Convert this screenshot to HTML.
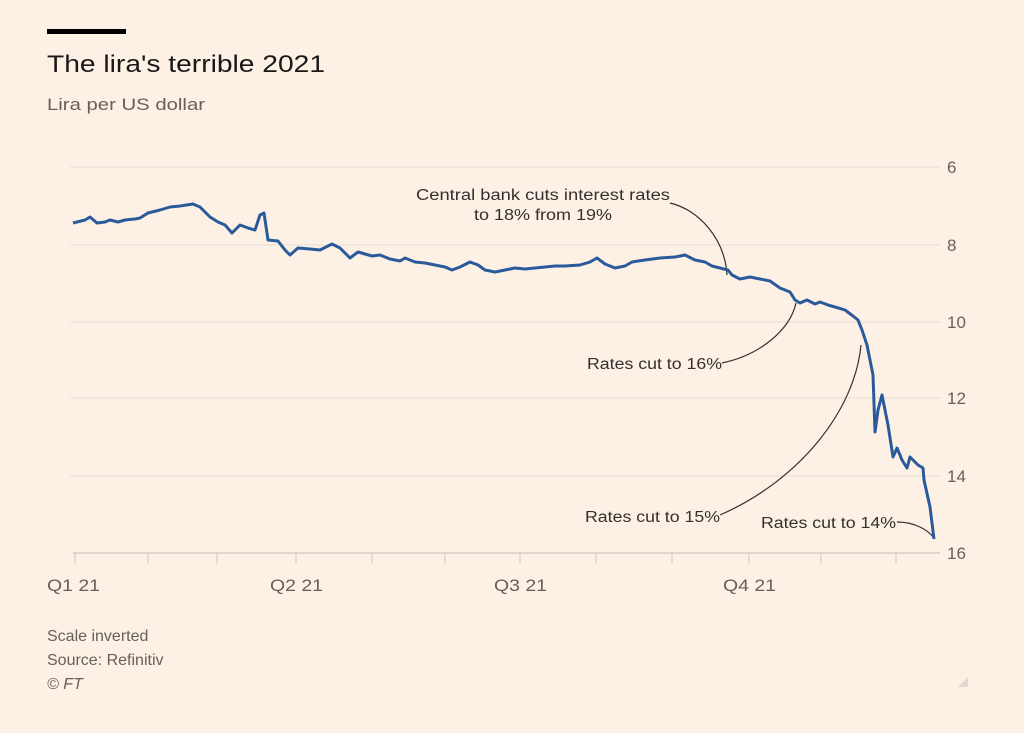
<!DOCTYPE html>
<html><head><meta charset="utf-8"><style>
html,body{margin:0;padding:0;background:#fdf1e6;}
body{width:1024px;height:728px;overflow:hidden;font-family:"Liberation Sans",sans-serif;}
</style></head><body>
<svg width="1024" height="728" viewBox="0 0 1024 728" xmlns="http://www.w3.org/2000/svg" font-family="Liberation Sans, sans-serif">
<rect width="1024" height="728" fill="#fdf1e6"/>
<rect x="47" y="29" width="79" height="5" fill="#000"/>
<text x="47" y="72" font-size="24" fill="#1a1817" textLength="278" lengthAdjust="spacingAndGlyphs">The lira's terrible 2021</text>
<text x="47" y="110" font-size="17" fill="#66605c" textLength="158" lengthAdjust="spacingAndGlyphs">Lira per US dollar</text>
<g stroke="#e8ddd3" stroke-width="1">
<line x1="70" y1="167" x2="940" y2="167"/>
<line x1="70" y1="245" x2="940" y2="245"/>
<line x1="70" y1="322" x2="940" y2="322"/>
<line x1="70" y1="398" x2="940" y2="398"/>
<line x1="70" y1="476" x2="940" y2="476"/>
</g>
<line x1="73" y1="553" x2="940" y2="553" stroke="#cfc6bd" stroke-width="1.2"/>
<g stroke="#cfc6bd" stroke-width="1">
<line x1="75" y1="553" x2="75" y2="564"/><line x1="148" y1="553" x2="148" y2="564"/><line x1="217" y1="553" x2="217" y2="564"/><line x1="296" y1="553" x2="296" y2="564"/><line x1="372" y1="553" x2="372" y2="564"/><line x1="445" y1="553" x2="445" y2="564"/><line x1="520" y1="553" x2="520" y2="564"/><line x1="596" y1="553" x2="596" y2="564"/><line x1="672" y1="553" x2="672" y2="564"/><line x1="749" y1="553" x2="749" y2="564"/><line x1="821" y1="553" x2="821" y2="564"/><line x1="896" y1="553" x2="896" y2="564"/>
</g>
<g font-size="17" fill="#66605c">
<text x="947" y="173">6</text><text x="947" y="251">8</text><text x="947" y="328">10</text><text x="947" y="404">12</text><text x="947" y="482">14</text><text x="947" y="559">16</text>
<text x="47" y="591" textLength="53" lengthAdjust="spacingAndGlyphs">Q1 21</text><text x="270" y="591" textLength="53" lengthAdjust="spacingAndGlyphs">Q2 21</text><text x="494" y="591" textLength="53" lengthAdjust="spacingAndGlyphs">Q3 21</text><text x="723" y="591" textLength="53" lengthAdjust="spacingAndGlyphs">Q4 21</text>
</g>
<g fill="none" stroke="#33302e" stroke-width="1.2">
<path d="M670 203 C700 210 725 240 727 275"/>
<path d="M722 363 C760 355 790 330 796 303"/>
<path d="M720 515 C800 480 855 410 861 345"/>
<path d="M897 522 C915 522 928 530 934 538"/>
</g>
<g font-size="15.5" fill="#33302e">
<text x="416" y="200" textLength="254" lengthAdjust="spacingAndGlyphs">Central bank cuts interest rates</text>
<text x="474" y="220" textLength="138" lengthAdjust="spacingAndGlyphs">to 18% from 19%</text>
<text x="587" y="369" textLength="135" lengthAdjust="spacingAndGlyphs">Rates cut to 16%</text>
<text x="585" y="522" textLength="135" lengthAdjust="spacingAndGlyphs">Rates cut to 15%</text>
<text x="761" y="528" textLength="135" lengthAdjust="spacingAndGlyphs">Rates cut to 14%</text>
</g>
<polyline fill="none" stroke="#2b5a9b" stroke-width="3" stroke-linejoin="round" points="73,223 85,220 90,217 97,223 105,222 110,220 118,222 125,220 135,219 140,218 148,213 160,210 170,207 180,206 193,204 200,207 210,217 218,222 225,225 232,233 240,225 248,228 255,230 260,215 264,213 268,240 278,241 285,250 290,255 298,248 310,249 320,250 332,244 340,248 350,258 358,252 365,254 372,256 380,255 390,259 400,261 405,258 415,262 425,263 435,265 445,267 452,270 460,267 470,262 478,265 485,270 495,272 505,270 515,268 525,269 535,268 545,267 555,266 565,266 580,265 590,262 597,258 605,264 615,268 625,266 632,262 645,260 660,258 675,257 685,255 695,260 705,262 712,266 720,268 728,270 732,275 740,279 750,277 760,279 770,281 780,288 790,292 795,300 800,303 807,300 815,304 820,302 828,305 835,307 845,310 853,316 858,320 862,330 867,345 873,375 875,432 878,410 882,395 888,425 893,457 897,448 902,460 907,468 910,457 918,465 923,468 924,480 930,507 934,539"/>
<g font-size="16" fill="#66605c">
<text x="47" y="641">Scale inverted</text>
<text x="47" y="665">Source: Refinitiv</text>
<text x="47" y="689" font-style="italic">© FT</text>
</g>
<polygon points="968,677 968,687 958,687" fill="#e2d8ce"/>
</svg>
</body></html>
